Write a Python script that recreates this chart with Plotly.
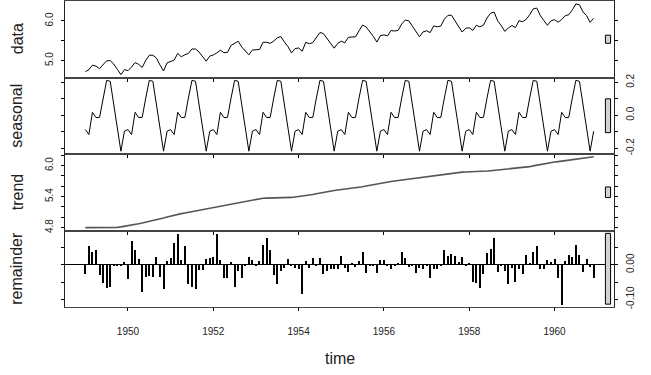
import numpy as np
import plotly.graph_objects as go
from plotly.subplots import make_subplots

start_year = 1949
freq = 12

# log monthly airline passengers (data panel)
data = [
    4.718, 4.771, 4.883, 4.860, 4.796, 4.905, 4.997, 4.997, 4.913, 4.779, 4.644, 4.771,
    4.745, 4.836, 4.949, 4.905, 4.828, 5.004, 5.136, 5.136, 5.063, 4.890, 4.736, 4.942,
    4.977, 5.011, 5.182, 5.094, 5.147, 5.182, 5.293, 5.293, 5.215, 5.088, 4.984, 5.112,
    5.142, 5.193, 5.263, 5.198, 5.209, 5.384, 5.438, 5.489, 5.342, 5.252, 5.147, 5.268,
    5.278, 5.278, 5.464, 5.460, 5.434, 5.493, 5.576, 5.606, 5.468, 5.352, 5.193, 5.303,
    5.318, 5.236, 5.460, 5.425, 5.455, 5.576, 5.710, 5.680, 5.557, 5.434, 5.313, 5.434,
    5.489, 5.451, 5.587, 5.595, 5.598, 5.753, 5.897, 5.849, 5.743, 5.613, 5.468, 5.628,
    5.649, 5.624, 5.759, 5.746, 5.762, 5.924, 6.023, 6.004, 5.872, 5.724, 5.602, 5.724,
    5.753, 5.707, 5.875, 5.852, 5.872, 6.045, 6.142, 6.146, 6.001, 5.849, 5.720, 5.817,
    5.829, 5.762, 5.892, 5.852, 5.894, 6.075, 6.196, 6.225, 6.001, 5.883, 5.737, 5.820,
    5.886, 5.835, 6.006, 5.981, 6.040, 6.157, 6.306, 6.326, 6.138, 6.009, 5.892, 6.004,
    6.033, 5.969, 6.038, 6.133, 6.157, 6.282, 6.433, 6.407, 6.230, 6.133, 5.966, 6.068,
]

seasonal = [
    -0.087, -0.117, 0.018, -0.014, -0.013, 0.105, 0.212, 0.206, 0.066, -0.075, -0.218, -0.097,
    -0.087, -0.117, 0.018, -0.014, -0.013, 0.105, 0.212, 0.206, 0.066, -0.075, -0.218, -0.097,
    -0.087, -0.117, 0.018, -0.014, -0.013, 0.105, 0.212, 0.206, 0.066, -0.075, -0.218, -0.097,
    -0.087, -0.117, 0.018, -0.014, -0.013, 0.105, 0.212, 0.206, 0.066, -0.075, -0.218, -0.097,
    -0.087, -0.117, 0.018, -0.014, -0.013, 0.105, 0.212, 0.206, 0.066, -0.075, -0.218, -0.097,
    -0.087, -0.117, 0.018, -0.014, -0.013, 0.105, 0.212, 0.206, 0.066, -0.075, -0.218, -0.097,
    -0.087, -0.117, 0.018, -0.014, -0.013, 0.105, 0.212, 0.206, 0.066, -0.075, -0.218, -0.097,
    -0.087, -0.117, 0.018, -0.014, -0.013, 0.105, 0.212, 0.206, 0.066, -0.075, -0.218, -0.097,
    -0.087, -0.117, 0.018, -0.014, -0.013, 0.105, 0.212, 0.206, 0.066, -0.075, -0.218, -0.097,
    -0.087, -0.117, 0.018, -0.014, -0.013, 0.105, 0.212, 0.206, 0.066, -0.075, -0.218, -0.097,
    -0.087, -0.117, 0.018, -0.014, -0.013, 0.105, 0.212, 0.206, 0.066, -0.075, -0.218, -0.097,
    -0.087, -0.117, 0.018, -0.014, -0.013, 0.105, 0.212, 0.206, 0.066, -0.075, -0.218, -0.097,
]

trend = [
    4.800, 4.800, 4.800, 4.800, 4.800, 4.800, 4.800, 4.800, 4.800, 4.805, 4.815, 4.825,
    4.835, 4.848, 4.862, 4.876, 4.890, 4.905, 4.920, 4.933, 4.950, 4.968, 4.988, 5.008,
    5.027, 5.045, 5.060, 5.072, 5.085, 5.098, 5.110, 5.123, 5.137, 5.150, 5.163, 5.177,
    5.190, 5.203, 5.217, 5.230, 5.244, 5.257, 5.270, 5.284, 5.298, 5.312, 5.326, 5.340,
    5.354, 5.364, 5.370, 5.372, 5.372, 5.372, 5.372, 5.372, 5.374, 5.378, 5.385, 5.393,
    5.400, 5.408, 5.417, 5.428, 5.440, 5.455, 5.470, 5.483, 5.495, 5.508, 5.518, 5.528,
    5.535, 5.544, 5.552, 5.561, 5.570, 5.578, 5.592, 5.606, 5.620, 5.634, 5.648, 5.662,
    5.674, 5.685, 5.692, 5.701, 5.711, 5.720, 5.730, 5.739, 5.749, 5.758, 5.768, 5.778,
    5.788, 5.798, 5.808, 5.818, 5.828, 5.838, 5.848, 5.858, 5.867, 5.872, 5.875, 5.877,
    5.878, 5.879, 5.881, 5.885, 5.890, 5.895, 5.902, 5.908, 5.914, 5.920, 5.926, 5.933,
    5.939, 5.944, 5.949, 5.956, 5.965, 5.980, 5.995, 6.010, 6.025, 6.038, 6.050, 6.060,
    6.070, 6.078, 6.086, 6.094, 6.102, 6.109, 6.118, 6.128, 6.138, 6.149, 6.160, 6.170,
]

remainder = [
    -0.024, 0.057, 0.038, 0.043, -0.029, -0.050, -0.067, -0.064, -0.002, 0.001, 0.003, 0.010,
    -0.040, 0.070, 0.043, 0.017, -0.078, -0.035, -0.030, -0.033, 0.025, -0.035, -0.069, 0.012,
    0.020, 0.064, 0.091, 0.014, 0.057, -0.054, -0.062, -0.069, -0.014, -0.014, 0.017, 0.020,
    0.025, 0.091, 0.014, -0.037, -0.037, 0.010, -0.064, -0.016, -0.037, 0.002, 0.024, 0.014,
    0.002, 0.012, 0.060, 0.079, 0.045, -0.029, -0.054, -0.016, -0.007, 0.017, -0.002, -0.007,
    -0.010, -0.083, 0.012, -0.007, 0.020, 0.003, 0.020, -0.024, -0.016, -0.012, -0.010, -0.010,
    0.027, -0.008, -0.019, 0.007, -0.005, 0.012, 0.038, -0.022, 0.003, 0.003, -0.022, 0.016,
    0.016, 0.001, -0.010, 0.002, 0.007, 0.038, 0.022, -0.003, 0.001, -0.022, -0.008, -0.010,
    0.003, -0.038, -0.010, -0.010, 0.005, 0.045, 0.026, 0.033, 0.026, 0.010, 0.024, 0.005,
    0.008, -0.048, -0.050, -0.065, -0.024, 0.036, 0.048, 0.079, -0.019, 0.005, -0.016, -0.055,
    -0.008, -0.048, -0.012, -0.024, 0.030, 0.007, 0.038, 0.055, -0.010, -0.010, 0.016, 0.010,
    0.019, -0.038, -0.114, 0.012, 0.030, 0.024, 0.060, 0.030, -0.019, 0.019, -0.005, -0.038,
]

panel_labels = ["data", "seasonal", "trend", "remainder"]
year_ticks = [1950, 1952, 1954, 1956, 1958, 1960]
year_labels = ["1950", "1952", "1954", "1956", "1958", "1960"]

y_tickvals = [
    [5.0, 5.5, 6.0],
    [-0.2, -0.1, 0.0, 0.1, 0.2],
    [4.8, 5.0, 5.2, 5.4, 5.6, 5.8, 6.0, 6.2],
    [-0.10, -0.05, 0.0, 0.05],
]
y_ticktext = [
    ["5.0", "", "6.0"],
    ["-0.2", "", "0.0", "", "0.2"],
    ["4.8", "", "", "5.4", "", "", "6.0", ""],
    ["-0.10", "", "0.00", ""],
]
label_side = ["left", "right", "left", "right"]

FONT = "Liberation Sans, Arial, Helvetica, sans-serif"

time = start_year + np.arange(len(data)) / freq
series = [np.array(data), np.array(seasonal), np.array(trend), np.array(remainder)]


def ext_range(v):
    lo, hi = float(np.min(v)), float(np.max(v))
    d = 0.04 * (hi - lo)
    return [lo - d, hi + d]


xr = ext_range(time)
mx = min(float(np.max(s) - np.min(s)) for s in series)
dx = (xr[1] - xr[0]) / 64.0

fig = make_subplots(rows=4, cols=1, shared_xaxes=True, vertical_spacing=0)

for i, s in enumerate(series):
    row = i + 1
    if i < 3:
        color = "#555555" if i == 2 else "black"
        width = 1.6 if i == 2 else 1
        fig.add_trace(go.Scatter(x=time, y=s, mode="lines",
                                 line=dict(color=color, width=width),
                                 showlegend=False, hoverinfo="skip"),
                      row=row, col=1)
    else:
        fig.add_trace(go.Bar(x=time, y=s, width=0.025,
                             marker=dict(color="black", line=dict(width=0)),
                             showlegend=False, hoverinfo="skip"),
                      row=row, col=1)
    yr = ext_range(s)
    fig.update_yaxes(range=yr, tickvals=y_tickvals[i], ticktext=y_ticktext[i],
                     side=label_side[i], tickangle=-90, automargin=False,
                     ticks="outside", ticklen=3, tickcolor="black", tickwidth=1,
                     showline=True, linecolor="#222222", linewidth=1, mirror="ticks",
                     showgrid=False, zeroline=(i == 3), zerolinecolor="black",
                     zerolinewidth=1, ticklabelstandoff=4,
                     tickfont=dict(family=FONT, size=10, color="#222222"),
                     row=row, col=1)
    fig.update_xaxes(range=xr, tickvals=year_ticks, ticktext=year_labels,
                     automargin=False,
                     ticks="outside", ticklen=3, tickcolor="black", tickwidth=1,
                     showline=True, linecolor="#444444", linewidth=1.3, mirror=True,
                     showgrid=False, zeroline=False,
                     tickfont=dict(family=FONT, size=10, color="#222222"),
                     row=row, col=1)
    # range bar
    ymid = 0.5 * (float(np.min(s)) + float(np.max(s)))
    fig.add_shape(type="rect", x0=xr[1] - dx, x1=xr[1] - 0.4 * dx,
                  y0=ymid - mx / 2, y1=ymid + mx / 2,
                  fillcolor="#D3D3D3", line=dict(color="black", width=1),
                  layer="above", row=row, col=1)

fig.update_xaxes(showticklabels=True, ticklabelstandoff=12, row=4, col=1)

domains = [(0.75, 1.0), (0.5, 0.75), (0.25, 0.5), (0.0, 0.25)]
for i, lab in enumerate(panel_labels):
    fig.add_annotation(text=lab, xref="paper", yref="paper", x=0, xshift=-48,
                       y=sum(domains[i]) / 2, xanchor="center", yanchor="middle",
                       textangle=-90, showarrow=False,
                       font=dict(family=FONT, size=16, color="#222222"))

fig.add_annotation(text="time", xref="paper", yref="paper", x=0.5, y=0,
                   yshift=-51, xanchor="center", yanchor="middle", showarrow=False,
                   font=dict(family=FONT, size=16, color="#222222"))

fig.update_layout(width=651, height=375, margin=dict(l=65, r=37, t=1, b=68),
                  plot_bgcolor="white", paper_bgcolor="white", bargap=0,
                  showlegend=False)

fig.write_html("out.html", config={"displayModeBar": False},
               post_script="document.body.style.margin='0px';")
